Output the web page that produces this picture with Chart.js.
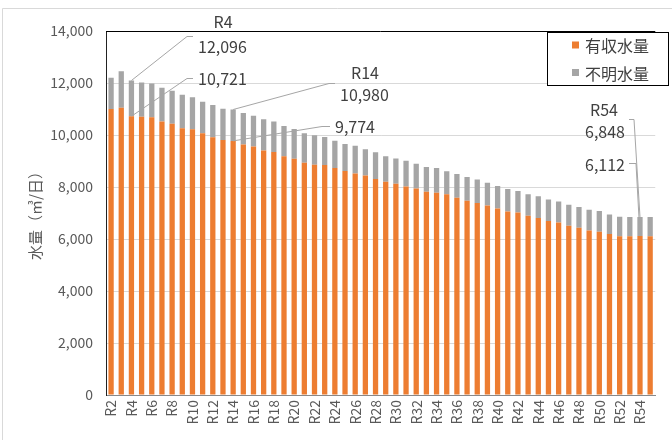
<!DOCTYPE html>
<html><head><meta charset="utf-8">
<script src="https://cdn.jsdelivr.net/npm/chart.js@4.4.0/dist/chart.umd.min.js"></script>
<style>html,body{margin:0;padding:0;background:#fff}</style>
</head><body>
<canvas id="c" width="672" height="440" style="display:block"></canvas>
<script>
const categories = ["R2","R3","R4","R5","R6","R7","R8","R9","R10","R11","R12","R13","R14","R15","R16","R17","R18","R19","R20","R21","R22","R23","R24","R25","R26","R27","R28","R29","R30","R31","R32","R33","R34","R35","R36","R37","R38","R39","R40","R41","R42","R43","R44","R45","R46","R47","R48","R49","R50","R51","R52","R53","R54","R55"];
// 有収水量 (orange)
const yushuVolume = [11000,11050,10721,10700,10680,10515,10435,10255,10220,10065,9910,9805,9774,9637,9560,9403,9350,9181,9090,8935,8858,8850,8730,8616,8517,8441,8312,8198,8122,8023,7947,7820,7783,7722,7590,7475,7380,7288,7173,7060,7021,6895,6808,6690,6637,6510,6433,6330,6280,6192,6110,6110,6112,6110];
// 不明水量 (gray)
const fumeiVolume = [1200,1400,1375,1320,1300,1305,1270,1295,1230,1215,1240,1209,1206,1208,1180,1207,1170,1169,1145,1130,1132,1070,1053,1042,1065,1011,1026,988,977,988,950,950,951,886,910,905,910,872,867,865,822,828,832,827,804,804,793,793,793,751,750,735,736,735];
const yTickValues = [0,2000,4000,6000,8000,10000,12000,14000];
const seriesNames = ["有収水量","不明水量"];
const seriesColors = ["#ED7D31","#A5A5A5"];
const yAxisTitle = "水量（㎥/日）";
// annotated categories
const calloutCats = ["R4","R14","R54"];

const FONT = "'Noto Sans CJK JP','Noto Sans',sans-serif";
const fmt = v => v.toLocaleString('en-US');

const decor = {
  id: 'decor',
  beforeDraw(chart) {
    const ctx = chart.ctx;
    ctx.save();
    ctx.fillStyle = '#fff';
    ctx.fillRect(0, 0, chart.width, chart.height);
    ctx.strokeStyle = '#d9d9d9';
    ctx.lineWidth = 1;
    ctx.beginPath();
    ctx.moveTo(2.5, 440); ctx.lineTo(2.5, 8.5); ctx.lineTo(672, 8.5);
    ctx.stroke();
    ctx.restore();
  },
  afterDraw(chart) {
    const ctx = chart.ctx;
    const ca = chart.chartArea;
    const xs = chart.scales.x, ys = chart.scales.y;
    ctx.save();
    // plot top border
    ctx.strokeStyle = '#000';
    ctx.lineWidth = 1;
    ctx.beginPath();
    ctx.moveTo(ca.left, Math.round(ca.top) + 0.5);
    ctx.lineTo(ca.right, Math.round(ca.top) + 0.5);
    ctx.stroke();

    // y axis title
    ctx.save();
    ctx.translate(35, 212);
    ctx.rotate(-Math.PI / 2);
    ctx.fillStyle = '#595959';
    ctx.font = '15px ' + FONT;
    ctx.textAlign = 'center';
    ctx.textBaseline = 'middle';
    ctx.fillText(yAxisTitle, 0, 0);
    ctx.restore();

    // callouts
    const pt = (cat, total) => {
      const i = categories.indexOf(cat);
      const v = total ? yushuVolume[i] + fumeiVolume[i] : yushuVolume[i];
      return { x: xs.getPixelForValue(i), y: ys.getPixelForValue(v), v: v };
    };
    ctx.strokeStyle = '#a6a6a6';
    ctx.lineWidth = 1;
    const line = pts => {
      ctx.beginPath();
      ctx.moveTo(pts[0][0], pts[0][1]);
      for (let k = 1; k < pts.length; k++) ctx.lineTo(pts[k][0], pts[k][1]);
      ctx.stroke();
    };
    ctx.fillStyle = '#404040';
    ctx.font = '16px ' + FONT;
    ctx.textBaseline = 'middle';

    // R4
    let a = pt(calloutCats[0], true), b = pt(calloutCats[0], false);
    line([[a.x, a.y], [187, 36.5], [193, 36.5]]);
    line([[b.x, b.y], [187, 78.5], [193, 78.5]]);
    ctx.textAlign = 'center';
    ctx.fillText(calloutCats[0], 223, 22);
    ctx.textAlign = 'left';
    ctx.fillText(fmt(a.v), 198, 47);
    ctx.fillText(fmt(b.v), 198, 79);

    // R14
    a = pt(calloutCats[1], true); b = pt(calloutCats[1], false);
    line([[a.x, a.y], [329, 83.5], [335, 83.5]]);
    line([[b.x, b.y], [322, 126.5], [330, 126.5]]);
    ctx.textAlign = 'center';
    ctx.fillText(calloutCats[1], 365, 73);
    ctx.textAlign = 'left';
    ctx.fillText(fmt(a.v), 340, 95);
    ctx.fillText(fmt(b.v), 335, 127);

    // R54
    a = pt(calloutCats[2], true); b = pt(calloutCats[2], false);
    line([[629, 119.5], [634, 119.5], [a.x, a.y]]);
    line([[629, 163.5], [636, 163.5], [b.x, b.y]]);
    ctx.textAlign = 'center';
    ctx.fillText(calloutCats[2], 604, 110);
    ctx.textAlign = 'right';
    ctx.fillText(fmt(a.v), 625, 132);
    ctx.fillText(fmt(b.v), 625, 165);

    // legend box
    ctx.fillStyle = '#fff';
    ctx.fillRect(547.5, 32.5, 121, 53);
    ctx.strokeStyle = '#000';
    ctx.strokeRect(547.5, 32.5, 121, 53);
    ctx.font = '16px ' + FONT;
    ctx.textAlign = 'left';
    for (let k = 0; k < 2; k++) {
      const cy = 45 + k * 27.5;
      ctx.fillStyle = seriesColors[k];
      ctx.fillRect(572, cy - 3.5, 7, 7);
      ctx.fillStyle = '#404040';
      ctx.fillText(seriesNames[k], 585, cy + 1);
    }
    ctx.restore();
  }
};

new Chart(document.getElementById('c'), {
  type: 'bar',
  data: {
    labels: categories,
    datasets: [
      { label: seriesNames[0], data: yushuVolume, backgroundColor: seriesColors[0], borderWidth: 0, barPercentage: 0.52, categoryPercentage: 1 },
      { label: seriesNames[1], data: fumeiVolume, backgroundColor: seriesColors[1], borderWidth: 0, barPercentage: 0.52, categoryPercentage: 1 }
    ]
  },
  options: {
    responsive: false,
    animation: false,
    devicePixelRatio: 1,
    layout: { padding: { top: 31, right: 4, left: 0, bottom: 0 } },
    plugins: { legend: { display: false }, tooltip: { enabled: false } },
    scales: {
      x: {
        stacked: true,
        grid: { display: false, drawTicks: false },
        border: { display: true, color: '#898989', width: 1 },
        ticks: {
          autoSkip: false, maxRotation: 90, minRotation: 90, padding: 5,
          color: '#595959', font: { family: FONT, size: 14 },
          callback: function (val, idx) { return idx % 2 === 0 ? this.getLabelForValue(val) : ''; }
        },
        afterFit: s => { s.height = 45; }
      },
      y: {
        stacked: true,
        min: 0, max: 14000,
        afterBuildTicks: s => { s.ticks = yTickValues.map(v => ({ value: v })); },
        grid: { color: '#d9d9d9', drawTicks: false },
        border: { display: true, color: '#222', width: 1 },
        ticks: { padding: 13, color: '#595959', font: { family: FONT, size: 14 }, callback: v => fmt(v) },
        afterFit: s => { s.width = 106; }
      }
    }
  },
  plugins: [decor]
});
</script>
</body></html>
